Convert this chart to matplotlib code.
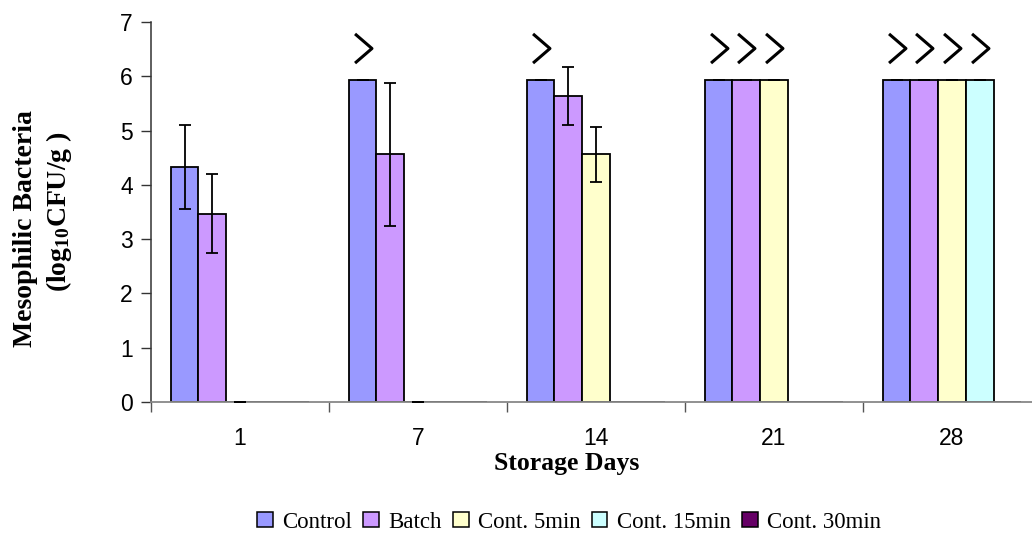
import numpy as np
import matplotlib
matplotlib.use("Agg")
import matplotlib.pyplot as plt
from matplotlib.path import Path
from matplotlib.patches import Patch

plt.rcParams['mathtext.fontset'] = 'custom'
plt.rcParams['mathtext.rm'] = 'Liberation Serif:bold'
plt.rcParams['mathtext.bf'] = 'Liberation Serif:bold'
plt.rcParams['mathtext.it'] = 'Liberation Serif:bold'

days = ["1", "7", "14", "21", "28"]
series = ["Control", "Batch", "Cont. 5min", "Cont. 15min", "Cont. 30min"]
colors = ["#9999FF", "#CC99FF", "#FFFFCC", "#CCFFFF", "#660066"]
nan = np.nan
control = [4.33, 5.94, 5.94, 5.94, 5.94]
batch = [3.47, 4.56, 5.64, 5.94, 5.94]
cont5 = [0.0, 0.0, 4.56, 5.94, 5.94]
cont15 = [nan, nan, nan, nan, 5.94]
cont30 = [nan, nan, nan, nan, nan]
control_err = [0.77, 0, 0, 0, 0]
batch_err = [0.73, 1.32, 0.54, 0, 0]
cont5_err = [0, 0, 0.50, 0, 0]
cont15_err = [nan, nan, nan, nan, 0]
cont30_err = [nan, nan, nan, nan, nan]
# ">" marks (above detection limit)
control_gt = [False, True, True, True, True]
batch_gt = [False, False, False, True, True]
cont5_gt = [False, False, False, True, True]
cont15_gt = [False, False, False, False, True]
cont30_gt = [False, False, False, False, False]

values = [control, batch, cont5, cont15, cont30]
errs = [control_err, batch_err, cont5_err, cont15_err, cont30_err]
flags = [control_gt, batch_gt, cont5_gt, cont15_gt, cont30_gt]

W, H = 1032, 535
fig = plt.figure(figsize=(W / 100, H / 100), dpi=100)
ax = fig.add_axes([151 / W, 1 - 402 / H, 890 / W, 380 / H])

bw = 0.1556
start = (1 - 5 * bw) / 2
chev = Path([(-0.58, 1.0), (0.58, 0.0), (-0.58, -1.0)], [Path.MOVETO, Path.LINETO, Path.LINETO])
x0 = np.arange(len(days))
for i, (v, e, f, c, s) in enumerate(zip(values, errs, flags, colors, series)):
    xs = x0 + start + bw * (i + 0.5)
    v = np.array(v, dtype=float)
    ax.bar(xs, np.nan_to_num(v), width=bw, color=c, edgecolor='black', linewidth=1.3, label=s, zorder=2)
    ax.errorbar(xs, v, yerr=np.array(e, dtype=float), fmt='none', ecolor='black', elinewidth=1.3,
                capsize=4.5, capthick=1.3, zorder=3)
    f = np.array(f)
    if f.any():
        ax.plot(xs[f], v[f] + 0.58, linestyle='none', marker=chev, markersize=21,
                markerfacecolor='none', markeredgecolor='black', markeredgewidth=2.2, zorder=4)

ax.set_xlim(0, 5)
ax.set_ylim(0, 7)
ax.set_yticks(range(8))
ax.set_yticklabels([str(i) for i in range(8)], family='Liberation Sans', fontsize=16.5)
ax.set_xticks(np.arange(0, 6))
ax.set_xticklabels([])
ax.set_xticks(x0 + 0.5, minor=True)
ax.set_xticklabels(days, minor=True, family='Liberation Sans', fontsize=16.5)
ax.tick_params(axis='x', which='major', length=7, width=1, color='#555555', direction='out')
ax.tick_params(axis='x', which='minor', length=0, pad=18)
ax.tick_params(axis='y', length=7, width=1, color='#333333', direction='out', pad=6)
for sp in ['top', 'right']:
    ax.spines[sp].set_visible(False)
ax.spines['left'].set_color('#333333')
ax.spines['bottom'].set_color('#888888')
ax.spines['left'].set_linewidth(1.1)
ax.spines['bottom'].set_linewidth(1.3)

fig.text(26 / W, 1 - 229 / H, "Mesophilic Bacteria", rotation=90,
         ha='center', va='center', family='Liberation Serif', fontweight='bold', fontsize=20)
fig.text(59 / W, 1 - 212 / H, "(log$_{10}$CFU/g )", rotation=90,
         ha='center', va='center', family='Liberation Serif', fontweight='bold', fontsize=20)
fig.text(567 / W, 1 - 470 / H, "Storage Days", ha='center', va='baseline',
         family='Liberation Serif', fontweight='bold', fontsize=18.5)

handles = [Patch(facecolor=c, edgecolor='black', linewidth=1.1) for c in colors]
fig.legend(handles, series, loc='center', bbox_to_anchor=(569 / W, 1 - 522 / H), ncol=5,
           frameon=False, prop={'family': 'Liberation Serif', 'size': 16.5},
           handlelength=0.68, handleheight=0.68, handletextpad=0.4, columnspacing=0.5,
           borderaxespad=0, borderpad=0)

fig.savefig("out.png", dpi=100)
